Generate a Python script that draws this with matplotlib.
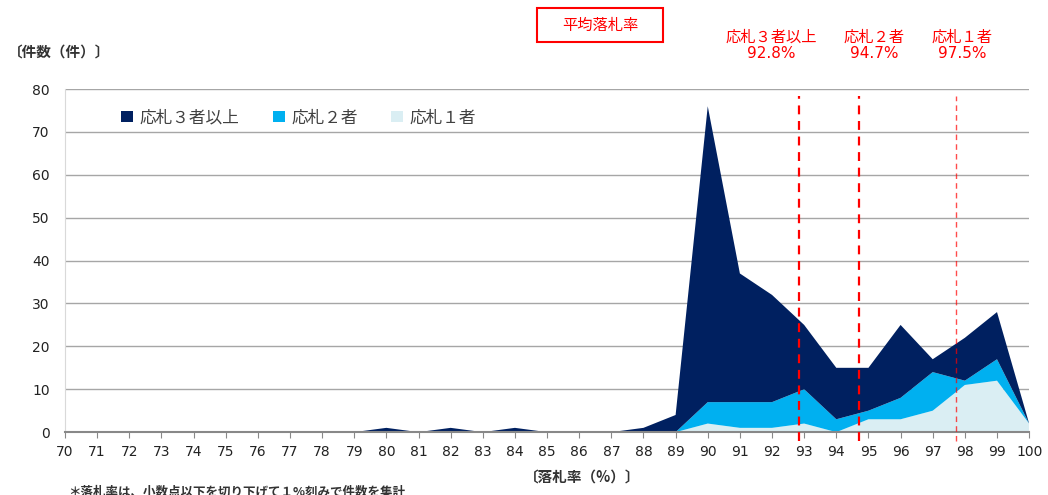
import matplotlib
matplotlib.use('Agg')
import matplotlib.pyplot as plt
from matplotlib.patches import Rectangle

JP = ['Noto Sans CJK JP', 'DejaVu Sans']

# data: counts per 1% band of the award rate
rates = list(range(70, 101))
one_bidder = [0] * 20 + [2, 1, 1, 2, 0, 3, 3, 5, 11, 12, 2]
two_bidders = [0] * 20 + [5, 6, 6, 8, 3, 2, 5, 9, 1, 5, 0]
three_plus = [0] * 10 + [1, 0, 1, 0, 1, 0, 0, 0, 1, 4,
                         69, 30, 25, 15, 12, 10, 17, 3, 10, 11, 0]
series_names = ['応札１者', '応札２者', '応札３者以上']
series_colors = ['#DAEEF3', '#00B0F0', '#002060']

avg_names = ['応札３者以上', '応札２者', '応札１者']
avg_values = ['92.8%', '94.7%', '97.5%']
avg_pos = [92.85, 94.7, 97.72]

fig = plt.figure(figsize=(10.48, 4.95), dpi=100)
ax = fig.add_axes([0.062, 0.127, 0.920, 0.693])

ax.stackplot(rates, one_bidder, two_bidders, three_plus,
             colors=series_colors, labels=series_names, lw=0)

ax.set_xlim(70, 100)
ax.set_ylim(0, 80)
ax.set_xticks(rates)
ax.set_yticks(range(0, 81, 10))
ax.tick_params(axis='x', length=4, color='#888888', labelsize=10, pad=5,
               labelcolor='#222222')
ax.tick_params(axis='y', length=0, labelsize=10, pad=11, labelcolor='#222222')
ax.grid(axis='y', color='#A6A6A6', lw=1)
ax.set_axisbelow(True)
for s in ['top', 'right']:
    ax.spines[s].set_visible(False)
ax.spines['left'].set_color('#D9D9D9')
ax.spines['bottom'].set_color('#888888')
ax.spines['bottom'].set_linewidth(1.5)

# average award rate lines
styles = [dict(lw=1.6, alpha=1.0), dict(lw=1.6, alpha=1.0), dict(lw=1.0, alpha=0.7)]
for xp, st in zip(avg_pos, styles):
    ax.plot([xp, xp], [-2, 78.5], color='#FF0000', ls=(0, (4, 3)),
            clip_on=False, zorder=5, **st)
for xpix, name, val in zip([771, 874, 962], avg_names, avg_values):
    fig.text(xpix / 1048, 1 - 37 / 495, name, color='#FF0000', fontsize=11,
             ha='center', va='center', family=JP)
    fig.text(xpix / 1048, 1 - 54 / 495, val, color='#FF0000', fontsize=11,
             ha='center', va='center', family='DejaVu Sans')

# legend (reversed so 3者以上 first)
h, l = ax.get_legend_handles_labels()
ax.legend(h[::-1], l[::-1], loc='upper left', bbox_to_anchor=(0.043, 0.985),
          ncol=3, frameon=False, prop={'family': JP, 'size': 12},
          handlelength=0.7, handleheight=0.7, handletextpad=0.4,
          columnspacing=2.0, labelcolor='#404040')

# title box
fig.patches.append(Rectangle((537 / 1048, 1 - 42 / 495), 126 / 1048, 34 / 495,
                             transform=fig.transFigure, fill=False,
                             edgecolor='#FF0000', lw=1.5))
fig.text(600 / 1048, 1 - 25 / 495, '平均落札率', color='#FF0000', fontsize=11,
         ha='center', va='center', family=JP)

fig.text(8 / 1048, 1 - 52 / 495, '〔件数（件）〕', fontsize=10.5, fontweight='bold',
         ha='left', va='center', family=JP, color='#333333')
fig.text(582 / 1048, 1 - 477 / 495, '〔落札率（%）〕', fontsize=10.5,
         fontweight='bold', ha='center', va='center', family=JP, color='#333333')
fig.text(68 / 1048, 1 - 492 / 495, '＊落札率は、小数点以下を切り下げて１%刻みで件数を集計',
         fontsize=9, fontweight='bold', ha='left', va='center', family=JP,
         color='#333333')

fig.savefig('out.png', dpi=100, facecolor='white')
